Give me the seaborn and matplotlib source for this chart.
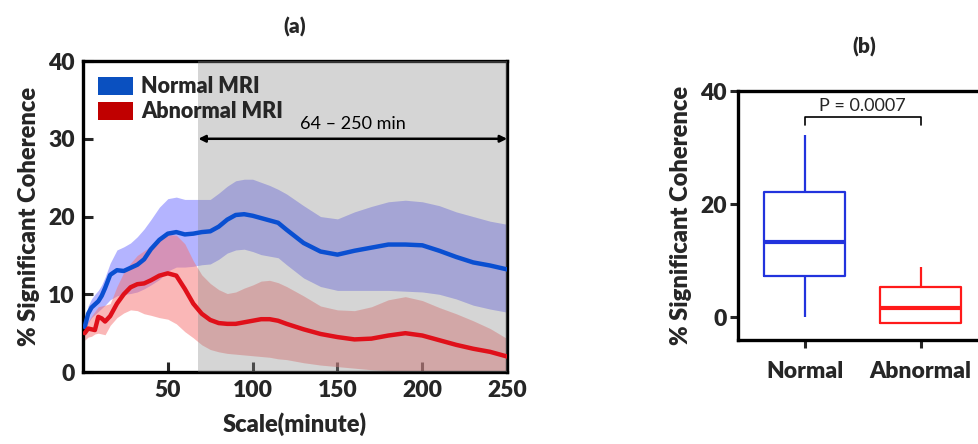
import matplotlib
matplotlib.use("Agg")
import matplotlib.pyplot as plt
import seaborn as sns
import pandas as pd
from matplotlib.patches import Patch

# ---------------- data ----------------
scale_min = [1, 3, 5, 7, 9, 11, 13, 16, 20, 24, 28, 32, 36, 40, 45, 50, 55, 60, 65, 70,
             75, 80, 85, 90, 95, 100, 105, 110, 115, 120, 130, 140, 150, 160, 170, 180,
             190, 200, 210, 220, 230, 240, 250]
normal_mean = [5.8, 7.5, 8.3, 8.7, 9.1, 9.8, 10.8, 12.5, 13.1, 13.0, 13.4, 13.8, 14.5, 15.8,
               17.0, 17.8, 18.0, 17.7, 17.8, 18.0, 18.1, 18.7, 19.6, 20.2, 20.3, 20.1, 19.8,
               19.5, 19.2, 18.3, 16.6, 15.5, 15.1, 15.6, 16.0, 16.4, 16.4, 16.3, 15.6, 14.8,
               14.1, 13.7, 13.2]
normal_upper = [6.5, 8.5, 9.4, 10.0, 10.5, 11.2, 12.2, 14.0, 15.7, 16.1, 16.6, 17.4, 18.4,
                19.6, 21.2, 22.3, 22.5, 22.2, 22.2, 22.2, 22.2, 23.0, 23.9, 24.6, 24.8, 24.8,
                24.4, 24.0, 23.5, 22.9, 21.4, 20.0, 19.7, 20.6, 21.3, 21.9, 22.1, 21.9, 21.4,
                20.6, 20.0, 19.4, 19.0]
normal_lower = [4.8, 6.3, 7.0, 7.4, 7.8, 8.2, 8.6, 9.3, 9.8, 10.0, 10.1, 10.3, 10.7, 11.2,
                11.9, 13.0, 13.5, 13.5, 13.6, 13.8, 13.9, 14.5, 15.3, 15.7, 15.8, 15.5, 15.1,
                14.9, 14.7, 13.8, 12.1, 11.0, 10.5, 10.5, 10.5, 10.5, 10.4, 10.3, 10.0, 9.4,
                8.6, 8.1, 7.7]
abnormal_mean = [5.0, 5.6, 5.5, 5.4, 7.1, 6.9, 6.5, 7.2, 8.8, 10.0, 10.9, 11.3, 11.4, 11.8,
                 12.4, 12.7, 12.4, 10.7, 8.8, 7.5, 6.7, 6.3, 6.2, 6.2, 6.4, 6.6, 6.8, 6.8,
                 6.6, 6.2, 5.5, 4.9, 4.5, 4.2, 4.3, 4.7, 5.0, 4.7, 4.1, 3.5, 3.0, 2.6, 2.0]
abnormal_upper = [5.5, 6.5, 7.2, 7.8, 8.4, 8.5, 8.6, 8.8, 11.0, 12.8, 14.0, 15.0, 15.6, 16.2,
                  17.0, 17.7, 17.6, 16.5, 14.3, 12.5, 11.4, 10.6, 10.1, 10.3, 10.8, 11.2,
                  11.7, 11.8, 11.5, 11.0, 9.8, 8.5, 8.0, 7.9, 8.4, 9.3, 9.7, 9.2, 8.3, 7.5,
                  6.6, 5.6, 4.3]
abnormal_lower = [4.1, 4.5, 4.6, 4.9, 5.0, 4.9, 4.8, 6.0, 7.0, 7.6, 8.0, 7.9, 7.5, 7.3, 7.0,
                  6.8, 6.2, 5.2, 4.4, 3.5, 2.9, 2.6, 2.4, 2.3, 2.2, 2.1, 2.0, 1.9, 1.7, 1.6,
                  1.2, 0.9, 0.7, 0.5, 0.3, 0.2, 0.1, 0.0, 0.0, 0.0, 0.0, 0.0, 0.0]

shade_range = (68, 250)
range_label = "64 – 250 min"

box_groups = ["Normal", "Abnormal"]
# five-number summaries: min, Q1, median, Q3, max
normal_box = [0.0, 7.3, 13.4, 22.2, 32.2]
abnormal_box = [-0.9, -0.9, 1.6, 5.3, 9.0]
p_label = "P = 0.0007"

# ---------------- style ----------------
sns.set_theme(style="white")
plt.rcParams["font.family"] = ["Lato", "DejaVu Sans"]
W = "heavy"

BLUE = "#0a4fd1"
RED = "#e0101a"

fig = plt.figure(figsize=(9.79, 4.44), dpi=100)

# ---------------- panel (a) ----------------
ax = fig.add_axes([0.0848, 0.162, 0.4332, 0.7006])
ax.fill_between(scale_min, normal_lower, normal_upper, color="#6a6aff", alpha=0.5,
                linewidth=0, zorder=1)
ax.fill_between(scale_min, abnormal_lower, abnormal_upper, color="#f77171", alpha=0.5,
                linewidth=0, zorder=2)
ax.axvspan(shade_range[0], shade_range[1], color="#8d8d8d", alpha=0.36, linewidth=0, zorder=3)

df_a = pd.DataFrame({
    "scale": scale_min * 2,
    "value": normal_mean + abnormal_mean,
    "group": ["Normal MRI"] * len(scale_min) + ["Abnormal MRI"] * len(scale_min),
})
sns.lineplot(data=df_a, x="scale", y="value", hue="group",
             palette={"Normal MRI": BLUE, "Abnormal MRI": RED},
             linewidth=3.2, ax=ax, legend=False, zorder=4)

ax.annotate("", xy=(shade_range[1], 30), xytext=(shade_range[0], 30),
            arrowprops=dict(arrowstyle="<|-|>", color="black", lw=1.8,
                            mutation_scale=10, shrinkA=0, shrinkB=0), zorder=5)
ax.text((shade_range[0] + shade_range[1]) / 2, 30.9, range_label, ha="center",
        va="bottom", fontsize=13, color="black")

ax.set_xlim(0, 250)
ax.set_ylim(0, 40)
ax.set_xticks([50, 100, 150, 200, 250])
ax.set_yticks([0, 10, 20, 30, 40])
ax.tick_params(direction="in", length=7, width=2.2, labelsize=16.5, pad=6,
               bottom=True, left=True)
for lab in ax.get_xticklabels() + ax.get_yticklabels():
    lab.set_fontweight(W)
for sp in ax.spines.values():
    sp.set_linewidth(2.4)
    sp.set_color("black")
ax.set_xlabel("Scale(minute)", fontsize=17, fontweight=W, labelpad=8)
ax.set_ylabel("% Significant Coherence", fontsize=17, fontweight=W, labelpad=6)
ax.set_title("(a)", fontsize=15, fontweight=W, pad=20)

handles = [Patch(facecolor="#0a50c0", edgecolor="none", label="Normal MRI"),
           Patch(facecolor="#c00000", edgecolor="none", label="Abnormal MRI")]
leg = ax.legend(handles=handles, loc="upper left", frameon=False,
                handlelength=1.6, handleheight=0.9, handletextpad=0.4,
                borderaxespad=0.3, labelspacing=0.2, prop={"weight": W, "size": 15.5})

# ---------------- panel (b) ----------------
bx = fig.add_axes([0.7538, 0.234, 0.252, 0.561])
df_b = pd.DataFrame({
    "group": [box_groups[0]] * len(normal_box) + [box_groups[1]] * len(abnormal_box),
    "value": normal_box + abnormal_box,
})
sns.boxplot(data=df_b, x="group", y="value", hue="group", order=box_groups,
            palette={"Normal": "#2233dd", "Abnormal": "#ff1a1a"}, fill=False,
            width=0.7, whis=1.5, showcaps=False, linewidth=1.6,
            medianprops=dict(linewidth=3), legend=False, ax=bx)
bx.set_xlim(-0.578, 1.552)
bx.set_ylim(-4, 40)
bx.set_yticks([0, 20, 40])
bx.set_xlabel("")
bx.set_ylabel("% Significant Coherence", fontsize=17, fontweight=W, labelpad=6)
bx.tick_params(direction="out", length=6, width=2.2, labelsize=16.5, pad=2,
               bottom=True, left=True)
bx.tick_params(axis="x", pad=9)
for lab in bx.get_xticklabels() + bx.get_yticklabels():
    lab.set_fontweight(W)
for name, sp in bx.spines.items():
    sp.set_linewidth(2.4)
    sp.set_color("black")
bx.spines["right"].set_visible(False)

bx.plot([0, 0, 1, 1], [34.0, 35.4, 35.4, 34.0], color="black", lw=1.2)
bx.text(0.5, 36.0, p_label, ha="center", va="bottom", fontsize=13)
fig.text(0.8825, 0.895, "(b)", ha="center", va="center", fontsize=15, fontweight=W)

fig.savefig("out.png", dpi=100)
